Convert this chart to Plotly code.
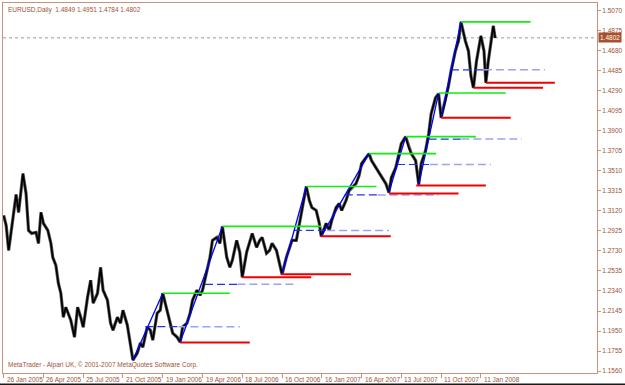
import plotly.graph_objects as go

# ---- price path (bar index, price) ----
bar_index = [0, 4, 8, 12, 15, 20, 24, 28, 31, 36, 40, 45, 52, 56, 60, 64, 71, 76, 79, 84,
             88, 92, 96, 100, 104, 108, 114, 119, 124, 128, 135, 140, 144, 151, 156, 160, 167, 172, 176, 183,
             188, 192, 199, 204, 208, 215, 220, 224, 231, 236, 240, 247, 252, 256, 263, 268, 272, 279, 284, 288,
             295, 300, 304, 311, 316, 320, 327, 332, 336, 343, 348, 352, 359, 364, 368, 375, 380, 384, 391, 396,
             400, 407, 412, 416, 423, 428, 432, 439, 444, 448, 455, 460, 464, 471, 476, 480, 487, 492, 496, 503,
             508, 511, 519, 524, 528, 535, 540, 544, 551, 556, 560, 567, 572, 576, 583, 588, 592, 599, 604, 608,
             615, 620, 624, 631, 636, 640, 647, 652, 656, 663, 668, 672, 679, 684, 688, 695, 700, 704, 711, 716,
             720, 727, 732, 736, 743, 748, 752, 756, 761, 764, 768, 773, 776, 780, 784, 788, 791]
price_path = [1.3074, 1.2977, 1.2735, 1.2910, 1.3055, 1.3278, 1.3104, 1.3317, 1.3482, 1.3288,
              1.2929, 1.2900, 1.2910, 1.2803, 1.3104, 1.2997, 1.2929, 1.2803, 1.2667, 1.2589,
              1.2415, 1.2318, 1.2085, 1.2182, 1.2124, 1.2056, 1.1891, 1.2182, 1.2085, 1.1988,
              1.2279, 1.2444, 1.2221, 1.2318, 1.2570, 1.2347, 1.2250, 1.2027, 1.1959, 1.2085,
              1.2027, 1.2153, 1.2007, 1.1794, 1.1668, 1.1736, 1.1833, 1.1794, 1.1988, 1.1959,
              1.1862, 1.2124, 1.2153, 1.2318, 1.2153, 1.2027, 1.1930, 1.1891, 1.1842, 1.1988,
              1.2027, 1.2124, 1.2250, 1.2347, 1.2298, 1.2347, 1.2541, 1.2667, 1.2832, 1.2861,
              1.2803, 1.2968, 1.2667, 1.2570, 1.2638, 1.2832, 1.2716, 1.2473, 1.2716, 1.2832,
              1.2900, 1.2764, 1.2832, 1.2861, 1.2706, 1.2735, 1.2803, 1.2735, 1.2609, 1.2502,
              1.2667, 1.2764, 1.2832, 1.2832, 1.2997, 1.3152, 1.3356, 1.3220, 1.3152, 1.3123,
              1.2997, 1.2871, 1.2997, 1.2929, 1.3026, 1.3152, 1.3191, 1.3123, 1.3220, 1.3317,
              1.3346, 1.3385, 1.3463, 1.3579, 1.3637, 1.3676, 1.3608, 1.3540, 1.3482, 1.3443,
              1.3385, 1.3298, 1.3443, 1.3540, 1.3676, 1.3773, 1.3841, 1.3734, 1.3676, 1.3608,
              1.3375, 1.3579, 1.3705, 1.3870, 1.4064, 1.4219, 1.4258, 1.4025, 1.4190, 1.4336,
              1.4481, 1.4675, 1.4772, 1.4957, 1.4772, 1.4675, 1.4433, 1.4316, 1.4578, 1.4675,
              1.4821, 1.4675, 1.4365, 1.4578, 1.4772, 1.4918, 1.4801]

# ---- zigzag swings ----
swing_low_bar = [208, 284, 448, 511, 620, 668, 704]
swing_low_price = [1.1668, 1.1842, 1.2502, 1.2871, 1.3298, 1.3375, 1.4025]
swing_high_bar = [256, 352, 487, 588, 647, 700, 736]
swing_high_price = [1.2318, 1.2968, 1.3356, 1.3676, 1.3841, 1.4265, 1.4957]

# ---- resistance (green) levels ----
resist_price = [1.2318, 1.2968, 1.3356, 1.3676, 1.3841, 1.4265, 1.4957]
resist_start = [256, 352, 487, 588, 647, 700, 736]
resist_end = [364, 511, 600, 696, 760, 808, 848]

# ---- support (red) levels ----
support_price = [1.1838, 1.2473, 1.2502, 1.2871, 1.3288, 1.3365, 1.4025, 1.4316, 1.4365]
support_start = [284, 384, 447, 511, 620, 664, 704, 756, 776]
support_end = [396, 495, 559, 623, 732, 776, 816, 868, 887]

# ---- mid (blue dashed) levels ----
mid_price = [1.1993, 1.2405, 1.2929, 1.3274, 1.3570, 1.3817, 1.4491]
mid_start = [228, 324, 467, 549, 633, 684, 720]
mid_end = [380, 473, 620, 700, 784, 834, 871]

last_price = 1.4802
header = "EURUSD,Daily  1.4849 1.4951 1.4784 1.4802"
footer = "MetaTrader - Alpari UK, \u00a9 2001-2007 MetaQuotes Software Corp."

y_ticks = [1.5070, 1.4875, 1.4680, 1.4485, 1.4290, 1.4095, 1.3900, 1.3705, 1.3510, 1.3315,
           1.3120, 1.2925, 1.2730, 1.2535, 1.2340, 1.2145, 1.1950, 1.1755, 1.1560]
x_tick_bars = [0, 64, 128, 192, 256, 320, 384, 448, 512, 576, 640, 704, 768]
x_tick_labels = ["26 Jan 2005", "26 Apr 2005", "25 Jul 2005", "21 Oct 2005", "19 Jan 2006",
                 "19 Apr 2006", "18 Jul 2006", "16 Oct 2006", "16 Jan 2007", "16 Apr 2007",
                 "13 Jul 2007", "11 Oct 2007", "11 Jan 2008"]

FRAME = "#c8927c"
TXT = "#9a5436"
FONT = "Liberation Sans"
FS = 6.5


def hsegs(starts, ends, levels):
    xs, ys = [], []
    for s, e, p in zip(starts, ends, levels):
        xs += [s, e, None]
        ys += [p, p, None]
    return xs, ys


def split_segs(starts, ends, levels, frac, first):
    xs, ys = [], []
    for s, e, p in zip(starts, ends, levels):
        m = s + (e - s) * frac
        a, b = (s, m) if first else (m, e)
        xs += [a, b, None]
        ys += [p, p, None]
    return xs, ys


fig = go.Figure()

# price bars
fig.add_trace(go.Scatter(x=bar_index, y=price_path, mode="lines",
                         line=dict(color="#5a5a5a", width=3.2), hoverinfo="skip"))
fig.add_trace(go.Scatter(x=bar_index, y=price_path, mode="lines",
                         line=dict(color="#000000", width=1.7), hoverinfo="skip"))

# mid dashed lines
x1, y1 = split_segs(mid_start, mid_end, mid_price, 0.35, False)
fig.add_trace(go.Scatter(x=x1, y=y1, mode="lines",
                         line=dict(color="#9aa2f2", width=1.5, dash="8px,4px"), hoverinfo="skip"))
x1, y1 = split_segs(mid_start, mid_end, mid_price, 0.35, True)
fig.add_trace(go.Scatter(x=x1, y=y1, mode="lines",
                         line=dict(color="#2233e6", width=1.2, dash="8px,4px"), hoverinfo="skip"))

# zigzag
zx, zy = [], []
for lb, lp, hb, hp in zip(swing_low_bar, swing_low_price, swing_high_bar, swing_high_price):
    zx += [lb, hb, None]
    zy += [lp, hp, None]
fig.add_trace(go.Scatter(x=zx, y=zy, mode="lines",
                         line=dict(color="#0000ff", width=1.3), hoverinfo="skip"))

# green resistance
gx, gy = hsegs(resist_start, resist_end, resist_price)
fig.add_trace(go.Scatter(x=gx, y=gy, mode="lines",
                         line=dict(color="#11ee11", width=1.6), hoverinfo="skip"))

# red support
rx, ry = hsegs(support_start, support_end, support_price)
fig.add_trace(go.Scatter(x=rx, y=ry, mode="lines",
                         line=dict(color="#ee0000", width=2), hoverinfo="skip"))

shapes = [
    dict(type="line", xref="paper", yref="y", x0=0, x1=1, y0=last_price, y1=last_price,
         line=dict(color="#9a9a9a", width=1, dash="dot"), layer="below"),
]

annotations = [
    dict(xref="paper", yref="paper", x=0, y=1, xanchor="left", yanchor="top",
         xshift=3, yshift=-1, text=header, showarrow=False,
         font=dict(family=FONT, size=FS, color=TXT)),
    dict(xref="paper", yref="paper", x=0, y=0, xanchor="left", yanchor="bottom",
         xshift=3, yshift=2, text=footer, showarrow=False,
         font=dict(family=FONT, size=FS, color=TXT)),
    dict(xref="paper", yref="y", x=1, y=last_price, xanchor="left", yanchor="middle",
         xshift=1, text="1.4802", showarrow=False, bgcolor="#a8502a", borderpad=1,
         font=dict(family=FONT, size=FS, color="#ffffff")),
    # dark window edge along the bottom
    dict(xref="paper", yref="paper", x=0, y=0, xanchor="left", yanchor="top",
         xshift=-4, yshift=-9.5, text=" ", showarrow=False, width=640, height=5,
         bgcolor="#1a1a1a", borderpad=0, font=dict(size=1)),
]
for b, lab in zip(x_tick_bars, x_tick_labels):
    annotations.append(dict(xref="x", yref="paper", x=b, y=0, xanchor="left", yanchor="top",
                            xshift=1, yshift=-1, text=lab, showarrow=False,
                            font=dict(family=FONT, size=FS, color=TXT)))

fig.update_layout(
    width=625, height=385,
    margin=dict(l=2, r=26, t=2, b=12),
    paper_bgcolor="#ffffff", plot_bgcolor="#ffffff",
    showlegend=False,
    shapes=shapes, annotations=annotations,
    xaxis=dict(range=[-1.1, 954.9], showgrid=False, zeroline=False,
               showline=True, linecolor=FRAME, linewidth=1, mirror=True,
               ticks="outside", ticklen=4, tickcolor=FRAME, tickwidth=1,
               tickvals=x_tick_bars, ticktext=[""] * len(x_tick_bars)),
    yaxis=dict(range=[1.1542, 1.5141], side="right", showgrid=False, zeroline=False,
               showline=True, linecolor=FRAME, linewidth=1, mirror=True,
               ticks="outside", ticklen=3, tickcolor=FRAME, tickwidth=1,
               tickvals=y_ticks, ticktext=[f"{v:.4f}" for v in y_ticks],
               tickfont=dict(family=FONT, size=FS, color=TXT)),
)

fig.write_html("out.html")
